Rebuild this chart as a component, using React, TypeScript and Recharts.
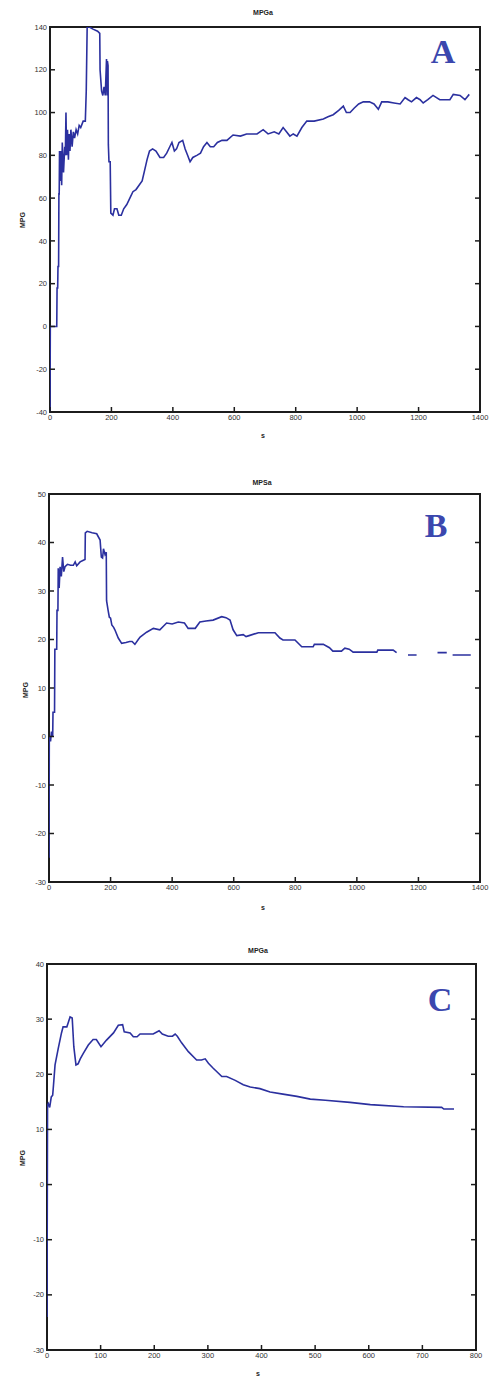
import React from "react";
import { LineChart, Line, XAxis, YAxis } from "recharts";

// panel A
const aS = [0, 1, 22, 23, 25, 26, 28, 29, 30, 31, 33, 35, 38, 40, 44, 48, 50, 52, 54, 57, 60, 62, 65, 68, 72, 76, 80, 85, 90, 95, 100, 108, 115, 118, 121, 128, 140, 155, 162, 163, 168, 172, 176, 180, 184, 186, 187, 189, 190, 192, 196, 198, 205, 210, 218, 224, 232, 240, 250, 260, 270, 280, 290, 300, 308, 316, 324, 334, 345, 358, 370, 380, 390, 397, 405, 412, 420, 432, 440, 448, 456, 465, 478, 490, 500, 511, 522, 533, 545, 560, 576, 596, 620, 640, 660, 674, 694, 710, 730, 745, 759, 770, 781, 792, 804, 820, 836, 860, 890, 905, 922, 940, 955, 965, 977, 990, 1005, 1020, 1040, 1055, 1069, 1080, 1100, 1120, 1140, 1156, 1166, 1177, 1193, 1205, 1215, 1230, 1247, 1269, 1285, 1302, 1313, 1335, 1351, 1365];
const aMpg = [-40, 0, 0, 18, 18, 28, 28, 62, 62, 82, 68, 82, 66, 86, 72, 84, 80, 100, 80, 92, 78, 90, 82, 92, 84, 91, 88, 92, 90, 94, 93, 96, 96, 110, 140, 140, 139, 138, 137, 120, 110, 108, 112, 108, 125, 108, 124, 122, 85, 77, 77, 53, 52, 55, 55, 52, 52, 55, 57, 60, 63, 64, 66, 68, 73, 78, 82, 83, 82, 79, 79, 81, 84, 86, 82, 83, 86, 87, 83, 80, 77, 79, 80, 81, 84, 86, 84, 84, 86, 87, 87, 89.5, 89, 90, 90, 90, 92, 90, 91, 90, 93, 91, 89, 90, 89, 93, 96, 96, 97, 98, 99, 101, 103, 100, 100, 102, 104, 105, 105, 104, 101.5, 105, 105, 104.5, 104, 107, 106, 105, 107, 106, 104.5, 106, 108, 106, 106, 106, 108.5, 108, 106, 108.5];
const aXTicks = [0, 200, 400, 600, 800, 1000, 1200, 1400];
const aYTicks = [-40, -20, 0, 20, 40, 60, 80, 100, 120, 140];

// panel B (null = break in the trace)
const bS = [0, 1, 5, 8, 12, 13, 18, 19, 25, 26, 29, 30, 33, 36, 40, 44, 48, 52, 60, 70, 79, 85, 90, 101, 110, 117, 118, 124, 140, 155, 166, 170, 174, 177, 182, 186, 187, 192, 196, 200, 204, 210, 214, 225, 236, 250, 262, 270, 279, 290, 296, 317, 339, 360, 382, 400, 420, 440, 452, 475, 490, 510, 533, 561, 575, 588, 598, 610, 631, 640, 650, 680, 734, 750, 760, 799, 821, 858, 862, 891, 911, 922, 950, 961, 975, 988, 1065, 1068, 1118, 1129, 1145, 1166, 1194, 1230, 1262, 1292, 1300, 1311, 1370];
const bMpg = [-25, 0, -1, 1, 0, 5, 5, 18, 18, 26, 26, 34.7, 30.6, 35, 33, 37, 34, 35, 35.5, 35.3, 35.3, 36, 35.2, 36, 36.3, 36.5, 42, 42.3, 42, 41.8, 40.5, 37, 36.8, 38.7, 37.5, 38, 28, 26, 24.6, 24.4, 23, 22.5, 22, 20.3, 19.2, 19.4, 19.6, 19.6, 19, 20, 20.5, 21.5, 22.3, 22, 23.4, 23.2, 23.6, 23.4, 22.3, 22.3, 23.6, 23.8, 24, 24.7, 24.5, 24, 22, 20.8, 21, 20.6, 20.8, 21.4, 21.4, 20.3, 19.9, 19.9, 18.5, 18.5, 19, 19, 18.3, 17.6, 17.6, 18.2, 18, 17.4, 17.4, 17.8, 17.8, 17.3, null, 16.8, 16.8, null, 17.3, 17.3, null, 16.8, 16.8];
const bXTicks = [0, 200, 400, 600, 800, 1000, 1200, 1400];
const bYTicks = [-30, -20, -10, 0, 10, 20, 30, 40, 50];

// panel C
const cS = [0, 1, 2.5, 5, 8, 10.6, 12, 15, 21, 27, 30, 37, 40, 43, 47, 50, 54, 58, 62, 67.7, 77, 86, 92, 100.7, 111, 124, 133, 141, 144, 155, 161, 168, 173.5, 198, 209, 215, 226, 234, 239, 243, 251, 263.6, 279, 288, 295, 301, 310, 326, 335, 351, 366, 379, 397, 416, 440, 466, 491, 519, 565, 603, 665, 736, 740, 759];
const cMpg = [-24, 14.4, 14.7, 14, 15.9, 16.2, 17.9, 21.7, 24.7, 27.5, 28.6, 28.6, 29.5, 30.4, 30.2, 25, 21.7, 21.9, 22.8, 23.8, 25.3, 26.3, 26.3, 25, 26.2, 27.5, 28.9, 29, 27.7, 27.5, 26.8, 26.8, 27.3, 27.3, 27.9, 27.3, 26.9, 26.9, 27.3, 26.9, 25.7, 24.1, 22.6, 22.6, 22.8, 22, 21.1, 19.6, 19.6, 18.9, 18.1, 17.7, 17.4, 16.8, 16.4, 16, 15.5, 15.3, 14.9, 14.5, 14.1, 14, 13.7, 13.7];
const cXTicks = [0, 100, 200, 300, 400, 500, 600, 700, 800];
const cYTicks = [-30, -20, -10, 0, 10, 20, 30, 40];

const zip = (s: number[], v: (number | null)[]) => s.map((x, i) => ({ s: x, mpg: v[i] }));

const FONT = "'Liberation Sans', Arial, sans-serif";
const INK = "#1c1c1c";
const LINE = "#2b309f";
const LETTER = "#3b47ae";
const TICK = 5;

// inward ticks, MATLAB style; label only on bottom/left
function makeTick(side: "bottom" | "top" | "left" | "right") {
  return (props: any) => {
    const { x, y, payload } = props;
    if (side === "bottom")
      return (
        <g>
          <line x1={x} y1={y} x2={x} y2={y - TICK} stroke={INK} strokeWidth={1.5} />
          <text x={x} y={y + 3} dy="0.71em" textAnchor="middle" fontSize={7.5} fill="#333" fontFamily={FONT}>{payload.value}</text>
        </g>
      );
    if (side === "top") return <line x1={x} y1={y} x2={x} y2={y + TICK} stroke={INK} strokeWidth={1.5} />;
    if (side === "left")
      return (
        <g>
          <line x1={x} y1={y} x2={x + TICK} y2={y} stroke={INK} strokeWidth={1.5} />
          <text x={x - 3} y={y} dy="0.35em" textAnchor="end" fontSize={7.5} fill="#333" fontFamily={FONT}>{payload.value}</text>
        </g>
      );
    return <line x1={x} y1={y} x2={x - TICK} y2={y} stroke={INK} strokeWidth={1.5} />;
  };
}
const tickB = makeTick("bottom");
const tickT = makeTick("top");
const tickL = makeTick("left");
const tickR = makeTick("right");

type PanelProps = {
  data: { s: number; mpg: number | null }[];
  xMax: number;
  xTicks: number[];
  yMin: number;
  yMax: number;
  yTicks: number[];
  left: number;
  right: number;
  top: number;
  bottom: number;
};

function Panel(p: PanelProps) {
  const chartTop = p.top - 20;
  const h = p.bottom + 22 - chartTop;
  const axisCommon = { allowDataOverflow: true, interval: 0 as const, tickSize: 0, tickMargin: 0, axisLine: false, tickLine: false };
  return (
    <>
      <div style={{
        position: "absolute", boxSizing: "border-box", left: p.left - 1, top: p.top - 1,
        width: p.right - p.left + 2, height: p.bottom - p.top + 2, border: `2px solid ${INK}`,
      }} />
      <div style={{ position: "absolute", left: 0, top: chartTop }}>
        <LineChart width={497} height={h} data={p.data} margin={{ top: 0, right: 0, bottom: 0, left: 0 }}>
          <XAxis xAxisId="b" dataKey="s" type="number" domain={[0, p.xMax]} ticks={p.xTicks} height={22} tick={tickB} {...axisCommon} />
          <XAxis xAxisId="t" orientation="top" type="number" domain={[0, p.xMax]} ticks={p.xTicks} height={20} tick={tickT} {...axisCommon} />
          <YAxis yAxisId="l" type="number" domain={[p.yMin, p.yMax]} ticks={p.yTicks} width={p.left} tick={tickL} {...axisCommon} />
          <YAxis yAxisId="r" orientation="right" type="number" domain={[p.yMin, p.yMax]} ticks={p.yTicks} width={497 - p.right} tick={tickR} {...axisCommon} />
          <Line xAxisId="b" yAxisId="l" type="linear" dataKey="mpg" stroke={LINE} strokeWidth={1.6}
            dot={false} connectNulls={false} isAnimationActive={false} />
        </LineChart>
      </div>
    </>
  );
}

function Txt(props: { x: number; y: number; text: string; size: number; rotate?: boolean; bold?: boolean; serif?: boolean; color?: string }) {
  return (
    <div style={{
      position: "absolute", left: props.x, top: props.y, whiteSpace: "nowrap", lineHeight: 1,
      transform: `translate(-50%, -50%)${props.rotate ? " rotate(-90deg)" : ""}`,
      fontSize: props.size, fontWeight: props.bold ? 700 : 400,
      fontFamily: props.serif ? "'Liberation Serif', 'Times New Roman', serif" : FONT,
      color: props.color || "#222",
    }}>{props.text}</div>
  );
}

export default function App() {
  return (
    <div style={{ position: "absolute", left: 0, top: 0, width: 497, height: 1377, background: "#fff", overflow: "hidden" }}>
      <Panel data={zip(aS, aMpg)} xMax={1400} xTicks={aXTicks} yMin={-40} yMax={140} yTicks={aYTicks}
        left={50} right={480} top={27} bottom={412} />
      <Txt x={263} y={12} text="MPGa" size={7} bold />
      <Txt x={22} y={220} text="MPG" size={7} bold rotate />
      <Txt x={263} y={435} text="s" size={7} bold />
      <Txt x={443} y={52} text="A" size={34} bold serif color={LETTER} />

      <Panel data={zip(bS, bMpg)} xMax={1400} xTicks={bXTicks} yMin={-30} yMax={50} yTicks={bYTicks}
        left={49} right={480} top={494} bottom={882} />
      <Txt x={262} y={482} text="MPSa" size={7} bold />
      <Txt x={25} y={690} text="MPG" size={7} bold rotate />
      <Txt x={263} y={907} text="s" size={7} bold />
      <Txt x={436} y={526} text="B" size={34} bold serif color={LETTER} />

      <Panel data={zip(cS, cMpg)} xMax={800} xTicks={cXTicks} yMin={-30} yMax={40} yTicks={cYTicks}
        left={47} right={476} top={964} bottom={1350} />
      <Txt x={258} y={950} text="MPGa" size={7} bold />
      <Txt x={22} y={1158} text="MPG" size={7} bold rotate />
      <Txt x={258} y={1373} text="s" size={7} bold />
      <Txt x={440} y={1000} text="C" size={34} bold serif color={LETTER} />
    </div>
  );
}
